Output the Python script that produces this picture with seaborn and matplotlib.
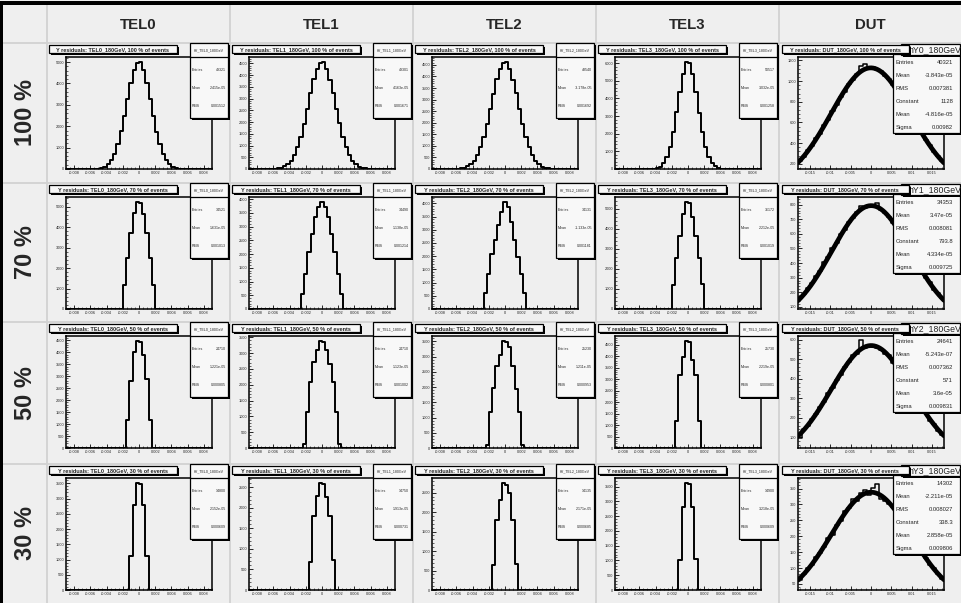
import numpy as np
import matplotlib
matplotlib.use("Agg")
import matplotlib.pyplot as plt
import seaborn as sns
from matplotlib.patches import Rectangle
from matplotlib.lines import Line2D
from matplotlib.ticker import MultipleLocator, AutoMinorLocator, FuncFormatter

# ---------------- data ----------------
detectors = ["TEL0", "TEL1", "TEL2", "TEL3", "DUT"]
fractions = [100, 70, 50, 30]
row_labels = ["100 %", "70 %", "50 %", "30 %"]

tel_bin_width = 0.0004
tel_xrange = (-0.009, 0.009)

tel0_100 = [10, 22, 50, 110, 225, 405, 720, 1150, 1760, 2470, 3280, 4020, 4630, 4970,
            4990, 4610, 4040, 3260, 2490, 1740, 1170, 705, 415, 215, 105, 48, 20, 12]
tel0_70 = [1180, 2510, 3690, 4670, 5210, 5200, 4660, 3700, 2500, 1190]
tel0_50 = [1150, 2780, 4000, 4450, 4430, 3860, 2890, 1150]
tel0_30 = [1100, 2800, 3500, 3490, 2800, 1110]

tel1_100 = [12, 27, 54, 110, 198, 355, 590, 920, 1380, 1925, 2565, 3215, 3815, 4265, 4530,
            4540, 4260, 3800, 3230, 2550, 1940, 1370, 930, 585, 350, 205, 105, 56, 25, 13]
tel1_70 = [550, 1280, 2070, 2740, 3350, 3720, 3880, 3710, 3360, 2730, 2080, 1270, 540]
tel1_50 = [140, 1130, 2100, 2730, 3100, 3370, 3360, 3090, 2650, 2100, 1130, 140]
tel1_30 = [690, 1800, 2280, 2600, 2590, 2260, 1800, 730]

tel2_100 = [12, 28, 55, 112, 200, 360, 600, 935, 1400, 1950, 2600, 3260, 3870, 4330, 4600,
            4610, 4320, 3860, 3270, 2590, 1960, 1390, 940, 595, 355, 208, 107, 57, 26, 13]
tel2_70 = [595, 1330, 2070, 2610, 3180, 3690, 4040, 3880, 3310, 2610, 1980, 1330, 595]
tel2_50 = [110, 1180, 1960, 2690, 3060, 3500, 3480, 3330, 2690, 1940, 1180, 110]
tel2_30 = [645, 1800, 2310, 2740, 2700, 2480, 1800, 660]

tel3_100 = [8, 20, 56, 140, 325, 670, 1260, 2100, 3210, 4360, 5390, 6040,
            6010, 5370, 4380, 3190, 2120, 1250, 675, 320, 145, 52, 21, 7]
tel3_70 = [1200, 2530, 3630, 4730, 5330, 5320, 4580, 3630, 2530, 1250]
tel3_50 = [1170, 3170, 3960, 4640, 4620, 3810, 3170, 1170]
tel3_30 = [1000, 2820, 3610, 3600, 2820, 1050]

tel_counts = {
    "TEL0": [tel0_100, tel0_70, tel0_50, tel0_30],
    "TEL1": [tel1_100, tel1_70, tel1_50, tel1_30],
    "TEL2": [tel2_100, tel2_70, tel2_50, tel2_30],
    "TEL3": [tel3_100, tel3_70, tel3_50, tel3_30],
}
tel_entries = {
    "TEL0": [49321, 34521, 24710, 14800],
    "TEL1": [49301, 34490, 24710, 14750],
    "TEL2": [48540, 34131, 25230, 14135],
    "TEL3": [50517, 36172, 25730, 14900],
}
tel_means = {
    "TEL0": ["2.415e-05", "1.631e-05", "1.221e-05", "2.152e-05"],
    "TEL1": ["4.163e-05", "1.138e-05", "1.123e-05", "1.913e-05"],
    "TEL2": ["-3.178e-05", "-1.133e-05", "1.211e-05", "2.171e-05"],
    "TEL3": ["3.032e-05", "2.212e-05", "2.219e-05", "3.218e-05"],
}
tel_rms = {
    "TEL0": ["0.001512", "0.001013", "0.000805", "0.000609"],
    "TEL1": ["0.001671", "0.001214", "0.001002", "0.000731"],
    "TEL2": ["0.001692", "0.001181", "0.000953", "0.000685"],
    "TEL3": ["0.001258", "0.001019", "0.000801", "0.000609"],
}

dut_bin_width = 0.001
dut_xrange = (-0.018, 0.018)
dut_100 = [232, 268, 330, 372, 445, 492, 575, 628, 712, 768, 850, 898, 972, 1008, 1065, 1150,
           1165, 1125, 1132, 1110, 1098, 1050, 1020, 958, 910, 836, 781, 700, 640, 560, 506,
           430, 383, 318, 278, 225]
dut_70 = [165, 188, 232, 262, 312, 348, 405, 441, 500, 540, 598, 630, 685, 708, 752, 790,
          778, 800, 795, 815, 765, 742, 718, 672, 641, 590, 552, 490, 450, 395, 356, 300,
          270, 215, 195, 158]
dut_50 = [98, 142, 160, 195, 218, 258, 280, 325, 352, 395, 420, 462, 484, 520, 530, 602,
          560, 575, 566, 560, 550, 530, 520, 482, 455, 430, 388, 360, 318, 292, 248, 225,
          185, 168, 132, 112]
dut_30 = [62, 80, 100, 110, 136, 148, 166, 195, 205, 236, 248, 278, 290, 318, 312, 335,
          345, 330, 352, 365, 318, 312, 300, 292, 268, 250, 235, 206, 192, 168, 148, 132,
          110, 100, 80, 66]
dut_counts = [dut_100, dut_70, dut_50, dut_30]
dut_fit_const = [1128, 793.8, 571, 338.3]
dut_fit_mean = [-4.816e-05, 4.334e-05, 3.6e-05, 2.858e-05]
dut_fit_sigma = [0.00982, 0.009725, 0.009831, 0.009806]
dut_entries = [40321, 34353, 24641, 14302]
dut_means = ["-3.843e-05", "3.47e-05", "-5.243e-07", "-2.211e-05"]
dut_rms = ["0.007381", "0.008081", "0.007362", "0.008027"]
dut_ylim = [(150, 1233), (85, 853), (45, 620), (31, 383)]
dut_ystep = [200, 100, 100, 50]

# ---------------- style / layout ----------------
sns.set_style("white")
plt.rcParams["font.family"] = ["Liberation Sans", "DejaVu Sans"]

W, H = 961, 603
BG = "#efefef"
BOX = "#f8f8f8"
GRID = "#d2d2d2"
col_edges = [3, 47, 230, 413, 596, 779, 961]
row_edges = [5, 43, 183, 322, 464, 603]

fig = plt.figure(figsize=(W / 100, H / 100), dpi=100)
fig.patch.set_facecolor(BG)


def rect(x, y, w, h, **kw):
    r = Rectangle((x / W, 1 - (y + h) / H), w / W, h / H, transform=fig.transFigure, **kw)
    fig.add_artist(r)
    return r


def hline(x0, x1, y, **kw):
    fig.add_artist(Line2D([x0 / W, x1 / W], [1 - y / H, 1 - y / H], transform=fig.transFigure, **kw))


def vline(x, y0, y1, **kw):
    fig.add_artist(Line2D([x / W, x / W], [1 - y0 / H, 1 - y1 / H], transform=fig.transFigure, **kw))


def ftext(x, y, s, **kw):
    fig.text(x / W, 1 - y / H, s, **kw)


def shadow_box(x, y, w, h, z, sh=2):
    rect(x + sh, y + sh, w, h, facecolor="black", edgecolor="none", zorder=z)
    rect(x, y, w, h, facecolor=BOX, edgecolor="black", linewidth=0.9, zorder=z + 0.1)


def fmt(v, pos):
    if abs(v) < 1e-12:
        return "0"
    return f"{v:g}"


# table grid
for xe in col_edges[1:-1]:
    vline(xe, 5, 603, color=GRID, lw=1.3, zorder=0.5)
for ye in row_edges[1:-1]:
    hline(3, 961, ye, color=GRID, lw=1.3, zorder=0.5)
rect(0, 1, 961, 4, facecolor="black", edgecolor="none", zorder=10)
rect(0, 1, 3, 602, facecolor="black", edgecolor="none", zorder=10)

# headers
for j, det in enumerate(detectors):
    cxm = (col_edges[j + 1] + col_edges[j + 2]) / 2
    ftext(cxm, 25, det, fontsize=10.8, fontweight="bold", ha="center", va="center")
for i, lab in enumerate(row_labels):
    cym = (row_edges[i + 1] + row_edges[i + 2]) / 2
    ftext(25, cym, lab, fontsize=17, fontweight="bold", ha="center", va="center", rotation=90)


def style_axes(ax, xlim, ylim, xmaj, ymaj):
    ax.set_facecolor(BG)
    ax.set_xlim(*xlim)
    ax.set_ylim(*ylim)
    ax.set_xlabel("")
    ax.set_ylabel("")
    for s in ax.spines.values():
        s.set_color("black")
        s.set_linewidth(1.1)
    ax.xaxis.set_major_locator(MultipleLocator(xmaj))
    ax.xaxis.set_minor_locator(AutoMinorLocator(4))
    ax.yaxis.set_major_locator(MultipleLocator(ymaj))
    ax.yaxis.set_minor_locator(AutoMinorLocator(5))
    ax.xaxis.set_major_formatter(FuncFormatter(fmt))
    ax.yaxis.set_major_formatter(FuncFormatter(fmt))
    ax.tick_params(which="major", direction="in", length=3, width=0.7, labelsize=2.8, pad=1.2,
                   bottom=True, left=True, top=False, right=False)
    ax.tick_params(which="minor", direction="in", length=1.6, width=0.5,
                   bottom=True, left=True, top=False, right=False)


for i, frac in enumerate(fractions):
    cy = row_edges[i + 1]
    for j, det in enumerate(detectors):
        cx = col_edges[j + 1]
        fx0, fy0, fx1, fy1 = cx + 19, cy + 14, cx + 165, cy + 126
        ax = fig.add_axes([fx0 / W, 1 - fy1 / H, (fx1 - fx0) / W, (fy1 - fy0) / H])
        title = f"Y residuals: {det}_180GeV, {frac} % of events"
        if det != "DUT":
            counts = np.array(tel_counts[det][i], dtype=float)
            n = len(counts)
            npad = int(np.ceil((0.0095 - n / 2 * tel_bin_width) / tel_bin_width))
            full = np.concatenate([np.zeros(npad), counts, np.zeros(npad)])
            start = -(n / 2 + npad) * tel_bin_width
            edges = start + tel_bin_width * np.arange(len(full) + 1)
            centers = (edges[:-1] + edges[1:]) / 2
            sns.histplot(x=list(centers), weights=list(full), bins=list(edges), element="step",
                         fill=False, color="black", linewidth=1.4, ax=ax)
            top = 1.05 * counts.max()
            style_axes(ax, tel_xrange, (0, top), 0.002, 1000 if top > 5000 else 500)
            # title box
            shadow_box(cx + 2, cy + 2, 128, 8, z=5)
            ftext(cx + 66, cy + 6.2, title, fontsize=4.0, fontweight="bold",
                  ha="center", va="center", zorder=6)
            # stats box
            shadow_box(cx + 143, cy, 38, 75, z=5)
            hline(cx + 143, cx + 181, cy + 14, color="black", lw=0.9, zorder=5.3)
            ftext(cx + 162, cy + 7.5, f"hY_{det}_180GeV", fontsize=2.6, ha="center",
                  va="center", zorder=6)
            for k, (lab, val) in enumerate([("Entries", str(tel_entries[det][i])),
                                             ("Mean", tel_means[det][i]),
                                             ("RMS", tel_rms[det][i])]):
                yy = cy + 27 + 18 * k
                ftext(cx + 145, yy, lab, fontsize=2.6, ha="left", va="center", zorder=6)
                ftext(cx + 179, yy, val, fontsize=2.6, ha="right", va="center", zorder=6)
        else:
            counts = np.array(dut_counts[i], dtype=float)
            edges = dut_xrange[0] + dut_bin_width * np.arange(len(counts) + 1)
            centers = (edges[:-1] + edges[1:]) / 2
            sns.histplot(x=list(centers), weights=list(counts), bins=list(edges), element="step",
                         fill=False, color="black", linewidth=1.1, ax=ax)
            xs = np.linspace(dut_xrange[0], dut_xrange[1], 300)
            ys = dut_fit_const[i] * np.exp(-0.5 * ((xs - dut_fit_mean[i]) / dut_fit_sigma[i]) ** 2)
            sns.lineplot(x=xs, y=ys, color="black", linewidth=3.4, ax=ax)
            style_axes(ax, dut_xrange, dut_ylim[i], 0.005, dut_ystep[i])
            # stats content box
            shadow_box(cx + 114, cy + 11, 67, 79, z=5)
            rows = [("Entries", str(dut_entries[i])), ("Mean", dut_means[i]),
                    ("RMS", dut_rms[i]), ("Constant", f"{dut_fit_const[i]:g}"),
                    ("Mean", f"{dut_fit_mean[i]:.4g}"), ("Sigma", f"{dut_fit_sigma[i]:.4g}")]
            for k, (lab, val) in enumerate(rows):
                yy = cy + 19.5 + 13 * k
                ftext(cx + 117, yy, lab, fontsize=4.2, ha="left", va="center", zorder=6)
                ftext(cx + 174, yy, val, fontsize=4.2, ha="right", va="center", zorder=6)
            # stats header
            shadow_box(cx + 122, cy + 1, 59, 11, z=6)
            ftext(cx + 156, cy + 6.8, f"hY{i}_180GeV", fontsize=6.3, ha="center",
                  va="center", zorder=7)
            # title box
            shadow_box(cx + 3, cy + 2, 127, 8, z=8)
            ftext(cx + 66, cy + 6.2, title, fontsize=4.0, fontweight="bold",
                  ha="center", va="center", zorder=9)

fig.savefig("out.png", dpi=100, facecolor=BG)
